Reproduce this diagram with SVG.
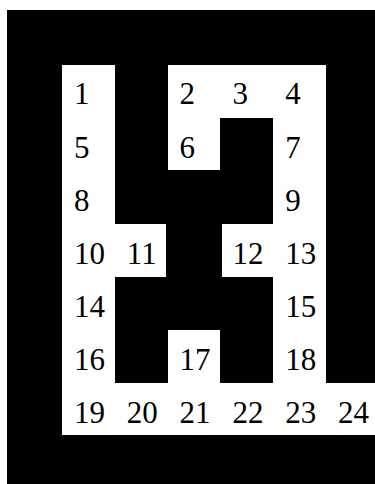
<svg xmlns="http://www.w3.org/2000/svg" width="375" height="484" viewBox="0 0 375 484">
<style>
.bg{fill:#000}
.cell{fill:#fff}
.lbl{font-family:"Liberation Serif","Times New Roman",serif;font-size:31px;fill:#000}
</style>
<rect x="0" y="0" width="375" height="484" fill="#fff"/>
<rect class="bg" x="7" y="10" width="368" height="474"/>
<g id="cells" shape-rendering="crispEdges">
<g id="c1"><rect class="cell" x="62" y="65" width="53" height="53"/><text class="lbl" x="74" y="104">1</text></g>
<g id="c2"><rect class="cell" x="168" y="65" width="52" height="53"/><text class="lbl" x="179.6" y="104">2</text></g>
<g id="c3"><rect class="cell" x="220" y="65" width="53" height="53"/><text class="lbl" x="232.4" y="104">3</text></g>
<g id="c4"><rect class="cell" x="273" y="65" width="53" height="53"/><text class="lbl" x="285.2" y="104">4</text></g>
<g id="c5"><rect class="cell" x="62" y="118" width="53" height="53"/><text class="lbl" x="74" y="158">5</text></g>
<g id="c6"><rect class="cell" x="168" y="118" width="52" height="52"/><text class="lbl" x="179.6" y="158">6</text></g>
<g id="c7"><rect class="cell" x="273" y="118" width="53" height="53"/><text class="lbl" x="285.2" y="158">7</text></g>
<g id="c8"><rect class="cell" x="62" y="171" width="53" height="53"/><text class="lbl" x="74" y="211">8</text></g>
<g id="c9"><rect class="cell" x="273" y="171" width="53" height="53"/><text class="lbl" x="285.2" y="211">9</text></g>
<g id="c10"><rect class="cell" x="62" y="224" width="53" height="53"/><text class="lbl" x="74" y="264">10</text></g>
<g id="c11"><rect class="cell" x="115" y="224" width="51" height="53"/><text class="lbl" x="126.8" y="264">11</text></g>
<g id="c12"><rect class="cell" x="222" y="224" width="51" height="53"/><text class="lbl" x="232.4" y="264">12</text></g>
<g id="c13"><rect class="cell" x="273" y="224" width="53" height="53"/><text class="lbl" x="285.2" y="264">13</text></g>
<g id="c14"><rect class="cell" x="62" y="277" width="53" height="53"/><text class="lbl" x="74" y="317">14</text></g>
<g id="c15"><rect class="cell" x="273" y="277" width="53" height="53"/><text class="lbl" x="285.2" y="317">15</text></g>
<g id="c16"><rect class="cell" x="62" y="330" width="53" height="53"/><text class="lbl" x="74" y="370">16</text></g>
<g id="c17"><rect class="cell" x="168" y="330" width="52" height="53"/><text class="lbl" x="179.6" y="370">17</text></g>
<g id="c18"><rect class="cell" x="273" y="330" width="53" height="53"/><text class="lbl" x="285.2" y="370">18</text></g>
<g id="c19"><rect class="cell" x="62" y="383" width="53" height="52"/><text class="lbl" x="74" y="423">19</text></g>
<g id="c20"><rect class="cell" x="115" y="383" width="53" height="52"/><text class="lbl" x="126.8" y="423">20</text></g>
<g id="c21"><rect class="cell" x="168" y="383" width="52" height="52"/><text class="lbl" x="179.6" y="423">21</text></g>
<g id="c22"><rect class="cell" x="220" y="383" width="53" height="52"/><text class="lbl" x="232.4" y="423">22</text></g>
<g id="c23"><rect class="cell" x="273" y="383" width="53" height="52"/><text class="lbl" x="285.2" y="423">23</text></g>
<g id="c24"><rect class="cell" x="326" y="383" width="49" height="52"/><text class="lbl" x="338" y="423">24</text></g>
</g>
<g id="connectors"/>
</svg>
